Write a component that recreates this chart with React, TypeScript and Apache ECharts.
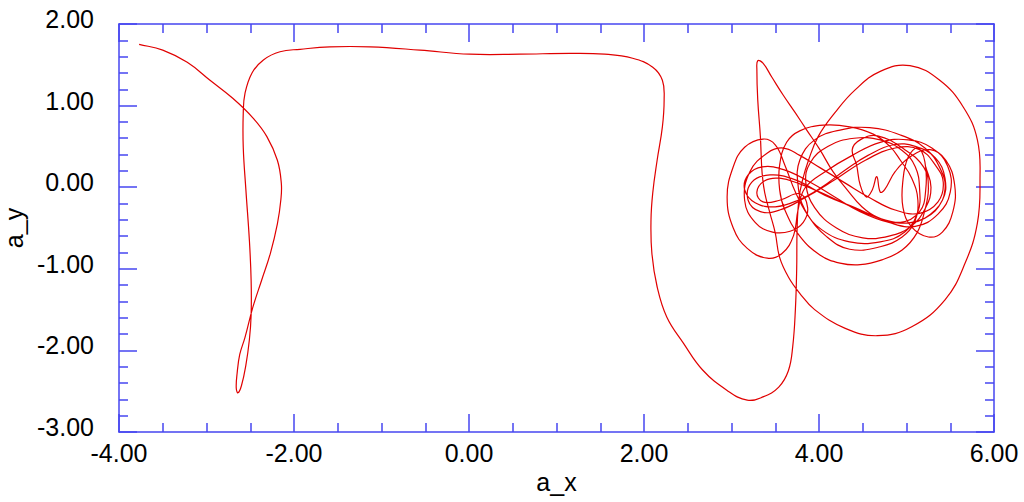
import React, { useEffect, useRef } from "react";
import * as echarts from "echarts";

// Tick labels / axis ranges
const xMin = -4, xMax = 6, xStep = 2;
const yMin = -3, yMax = 2, yStep = 1;
const xName = "a_x";
const yName = "a_y";

// Trajectory, in (a_x, a_y) data units, in drawing order
const leftSwing: number[][] = [
  [-3.77, 1.75], [-3.5, 1.68], [-3.22, 1.53], [-2.96, 1.31], [-2.7, 1.09], [-2.47, 0.85], [-2.31, 0.62],
  [-2.19, 0.33], [-2.145, 0.05], [-2.15, -0.15], [-2.19, -0.45], [-2.27, -0.81], [-2.37, -1.14], [-2.47, -1.47],
  [-2.56, -1.84], [-2.62, -2.05], [-2.65, -2.28], [-2.66, -2.46], [-2.64, -2.52], [-2.6, -2.43], [-2.55, -2.18],
  [-2.51, -1.87], [-2.49, -1.57], [-2.49, -1.14], [-2.51, -0.65], [-2.55, -0.03], [-2.58, 0.49], [-2.58, 0.91],
  [-2.56, 1.15], [-2.48, 1.4], [-2.35, 1.56], [-2.16, 1.66],
];
const topPlateau: number[][] = [
  [-1.93, 1.69], [-1.59, 1.72], [-1.13, 1.72], [-0.56, 1.68], [0.01, 1.63], [0.58, 1.63], [1.15, 1.64], [1.55, 1.63],
];
const rightDrop: number[][] = [
  [1.87, 1.58], [2.1, 1.47], [2.21, 1.31], [2.23, 1.07], [2.21, 0.74], [2.15, 0.33], [2.1, -0.07], [2.08, -0.4],
  [2.09, -0.81], [2.15, -1.22], [2.26, -1.59], [2.45, -1.91], [2.67, -2.24], [2.95, -2.49], [3.18, -2.61],
  [3.36, -2.57], [3.54, -2.45], [3.65, -2.25], [3.7, -1.95], [3.73, -1.5], [3.745, -1.0], [3.75, -0.5],
];
const outerLoop: number[][] = [
  [3.77, -0.15], [3.81, 0.08], [3.88, 0.33], [3.99, 0.62], [4.18, 0.91], [4.41, 1.19], [4.7, 1.42], [5.04, 1.49],
  [5.38, 1.31], [5.65, 0.98], [5.81, 0.58], [5.84, 0.09], [5.81, -0.44], [5.67, -0.93], [5.44, -1.38],
  [5.06, -1.71], [4.67, -1.82], [4.3, -1.73], [3.95, -1.5], [3.78, -1.3], [3.65, -1.1], [3.55, -0.86],
  [3.5, -0.56], [3.44, -0.32], [3.38, -0.07], [3.35, 0.17], [3.33, 0.62], [3.3, 1.07], [3.29, 1.44],
];
const spikeDiagonal: number[][] = [
  [3.3, 1.55], [3.36, 1.52], [3.46, 1.35], [3.59, 1.13], [3.73, 0.91], [3.86, 0.7], [4.01, 0.46], [4.16, 0.19],
  [4.32, -0.03], [4.49, -0.24],
];
const tangleBand: number[][] = [
  [4.67, -0.37], [4.93, -0.44], [5.21, -0.38], [5.41, -0.16], [5.44, 0.11], [5.33, 0.36], [5.1, 0.5], [4.85, 0.52],
  [4.56, 0.39], [4.3, 0.21], [4.03, 0.0], [3.76, -0.16], [3.5, -0.24], [3.27, -0.19], [3.15, -0.03], [3.19, 0.15],
  [3.35, 0.25], [3.61, 0.21], [3.9, 0.06], [4.18, -0.12],
  [4.47, -0.3], [4.79, -0.43], [5.1, -0.48], [5.36, -0.33], [5.5, -0.06], [5.47, 0.26], [5.29, 0.48], [5.02, 0.58],
  [4.7, 0.55], [4.38, 0.39], [4.07, 0.19], [3.84, -0.01],
];
const tangleLeft: number[][] = [
  [3.76, -0.28], [3.71, -0.59], [3.58, -0.81], [3.41, -0.87], [3.18, -0.75], [3.02, -0.5], [2.95, -0.12],
  [3.02, 0.25], [3.15, 0.49], [3.36, 0.59], [3.5, 0.52], [3.61, 0.27], [3.73, -0.06], [3.87, -0.34], [4.08, -0.6],
];
const tangleMiddle: number[][] = [
  [4.35, -0.76], [4.7, -0.73], [4.95, -0.61], [5.09, -0.43], [5.13, -0.16], [5.06, 0.11], [4.93, 0.33],
  [4.81, 0.5], [4.62, 0.65], [4.35, 0.74], [4.05, 0.76], [3.78, 0.69], [3.63, 0.55], [3.55, 0.27], [3.55, -0.03],
  [3.61, -0.28], [3.78, -0.6],
];
const tangleLower: number[][] = [
  [4.01, -0.83], [4.24, -0.93], [4.47, -0.95], [4.72, -0.89], [4.95, -0.77], [5.12, -0.56], [5.21, -0.28],
  [5.25, -0.01], [5.2, 0.24], [4.98, 0.46], [4.67, 0.63], [4.47, 0.58], [4.38, 0.46], [4.43, 0.27], [4.47, 0.03],
  [4.54, -0.12], [4.61, -0.03], [4.66, 0.13], [4.7, -0.06], [4.75, -0.03], [4.87, 0.19], [5.04, 0.37],
  [5.27, 0.46], [5.45, 0.33], [5.55, 0.03], [5.53, -0.3], [5.41, -0.55], [5.25, -0.61], [5.06, -0.49],
  [4.96, -0.25], [4.96, 0.09], [5.02, 0.37], [5.13, 0.48], [5.21, 0.31], [5.22, -0.03], [5.15, -0.3],
  [4.93, -0.43], [4.61, -0.35], [4.33, -0.22], [4.03, -0.07], [3.78, 0.04], [3.55, 0.11], [3.38, 0.08],
  [3.29, -0.06], [3.36, -0.18], [3.55, -0.16], [3.78, -0.08],
];
const tangleEnd: number[][] = [
  [3.87, -0.25], [3.82, -0.43], [3.67, -0.54], [3.47, -0.55], [3.27, -0.43], [3.15, -0.16], [3.21, 0.19],
  [3.41, 0.42], [3.59, 0.48], [3.78, 0.39], [4.01, 0.24], [4.3, 0.05], [4.58, -0.13], [4.87, -0.28],
  [5.15, -0.32], [5.36, -0.18], [5.42, 0.06], [5.33, 0.27],
];
const tangleExtra: number[][] = [
  [5.15, 0.46], [4.87, 0.48], [4.53, 0.33], [4.18, 0.09], [3.84, -0.13], [3.55, -0.28], [3.33, -0.3],
  [3.19, -0.16], [3.23, 0.06], [3.44, 0.15], [3.73, 0.09], [4.07, -0.1], [4.41, -0.25], [4.75, -0.4],
  [5.06, -0.43], [5.33, -0.28], [5.44, -0.03], [5.38, 0.24], [5.21, 0.48], [4.93, 0.64], [4.58, 0.73],
  [4.24, 0.7], [3.95, 0.58], [3.78, 0.33], [3.76, 0.03], [3.84, -0.28], [4.03, -0.52], [4.35, -0.67],
  [4.7, -0.67], [4.98, -0.55], [5.13, -0.3], [5.15, -0.03],
];
const tangleLast: number[][] = [
  [5.1, 0.25], [4.95, 0.45], [4.7, 0.58], [4.4, 0.6], [4.1, 0.5], [3.9, 0.3], [3.85, 0.05], [3.95, -0.25],
  [4.2, -0.5], [4.5, -0.62], [4.8, -0.6], [5.05, -0.48], [5.22, -0.25], [5.28, 0.0], [5.22, 0.25],
];

const trajectory = [
  ...leftSwing, ...topPlateau, ...rightDrop, ...outerLoop, ...spikeDiagonal,
  ...tangleBand, ...tangleLeft, ...tangleMiddle, ...tangleLower, ...tangleEnd, ...tangleExtra, ...tangleLast,
];

const AXIS_BLUE = "#4646f0";
const LINE_RED = "#e00000";
const FONT = "'Liberation Sans', Arial, sans-serif";

function makeX(position: "bottom" | "top", showLabel: boolean) {
  return {
    type: "value",
    position,
    min: xMin,
    max: xMax,
    interval: xStep,
    axisLine: { show: true, onZero: false, lineStyle: { color: AXIS_BLUE, width: 1.5 } },
    axisTick: { show: true, inside: true, length: 18, lineStyle: { color: AXIS_BLUE, width: 1.5 } },
    minorTick: { show: true, splitNumber: 4, length: 9, lineStyle: { color: AXIS_BLUE, width: 1.5 } },
    splitLine: { show: false },
    minorSplitLine: { show: false },
    axisLabel: {
      show: showLabel,
      formatter: (v: number) => v.toFixed(2),
      fontSize: 25,
      fontFamily: FONT,
      color: "#000",
      margin: 8,
      showMinLabel: true,
      showMaxLabel: true,
    },
    ...(showLabel
      ? {
          name: xName,
          nameLocation: "middle",
          nameGap: 37,
          nameTextStyle: { fontSize: 25, fontFamily: FONT, color: "#000" },
        }
      : {}),
  };
}

function makeY(position: "left" | "right", showLabel: boolean) {
  return {
    type: "value",
    position,
    min: yMin,
    max: yMax,
    interval: yStep,
    axisLine: { show: true, onZero: false, lineStyle: { color: AXIS_BLUE, width: 1.5 } },
    axisTick: { show: true, inside: true, length: 18, lineStyle: { color: AXIS_BLUE, width: 1.5 } },
    minorTick: { show: true, splitNumber: 5, length: 9, lineStyle: { color: AXIS_BLUE, width: 1.5 } },
    splitLine: { show: false },
    minorSplitLine: { show: false },
    axisLabel: {
      show: showLabel,
      formatter: (v: number) => v.toFixed(2),
      fontSize: 25,
      fontFamily: FONT,
      color: "#000",
      margin: 25,
      verticalAlign: "bottom",
      lineHeight: 10,
      showMinLabel: true,
      showMaxLabel: true,
    },
    ...(showLabel
      ? {
          name: yName,
          nameLocation: "middle",
          nameGap: 92,
          nameRotate: 90,
          nameTextStyle: { fontSize: 25, fontFamily: FONT, color: "#000" },
        }
      : {}),
  };
}

// Smooth path through pixel points (Catmull-Rom style, chord-length weighted)
function smoothPath(pts: number[][], k: number): string {
  if (pts.length < 2) return "";
  const f = (v: number) => v.toFixed(2);
  let d = `M${f(pts[0][0])},${f(pts[0][1])}`;
  const dist = (a: number[], b: number[]) => Math.hypot(b[0] - a[0], b[1] - a[1]) || 1e-6;
  for (let i = 0; i < pts.length - 1; i++) {
    const p0 = pts[i - 1] || pts[i];
    const p1 = pts[i];
    const p2 = pts[i + 1];
    const p3 = pts[i + 2] || pts[i + 1];
    const d01 = dist(p0, p1), d12 = dist(p1, p2), d23 = dist(p2, p3);
    const r1 = (k * d12) / (d01 + d12);
    const r2 = (k * d12) / (d12 + d23);
    const c1x = p1[0] + (p2[0] - p0[0]) * r1;
    const c1y = p1[1] + (p2[1] - p0[1]) * r1;
    const c2x = p2[0] - (p3[0] - p1[0]) * r2;
    const c2y = p2[1] - (p3[1] - p1[1]) * r2;
    d += `C${f(c1x)},${f(c1y)} ${f(c2x)},${f(c2y)} ${f(p2[0])},${f(p2[1])}`;
  }
  return d;
}

export default function App() {
  const ref = useRef<HTMLDivElement>(null);
  useEffect(() => {
    if (!ref.current) return;
    const chart = echarts.init(ref.current, undefined, { renderer: "svg" });
    chart.setOption({
      animation: false,
      backgroundColor: "#fff",
      grid: {
        left: 119, right: 30, top: 24, bottom: 70,
        containLabel: false, outerBoundsMode: "none",
      },
      xAxis: [makeX("bottom", true), makeX("top", false)],
      yAxis: [makeY("left", true), makeY("right", false)],
      series: [
        {
          type: "custom",
          xAxisIndex: 0,
          yAxisIndex: 0,
          data: trajectory,
          encode: { x: 0, y: 1 },
          clip: true,
          silent: true,
          renderItem: (params: any, api: any) => {
            if (params.dataIndex !== 0) return null;
            const pts = trajectory.map((p) => api.coord(p));
            return {
              type: "path",
              shape: { pathData: smoothPath(pts, 0.42) },
              style: { fill: "none", stroke: LINE_RED, lineWidth: 1.2 },
            };
          },
        },
      ],
    });
    return () => chart.dispose();
  }, []);
  return (
    <div
      ref={ref}
      style={{ position: "fixed", left: 0, top: 0, width: 1024, height: 502, background: "#fff" }}
    />
  );
}
